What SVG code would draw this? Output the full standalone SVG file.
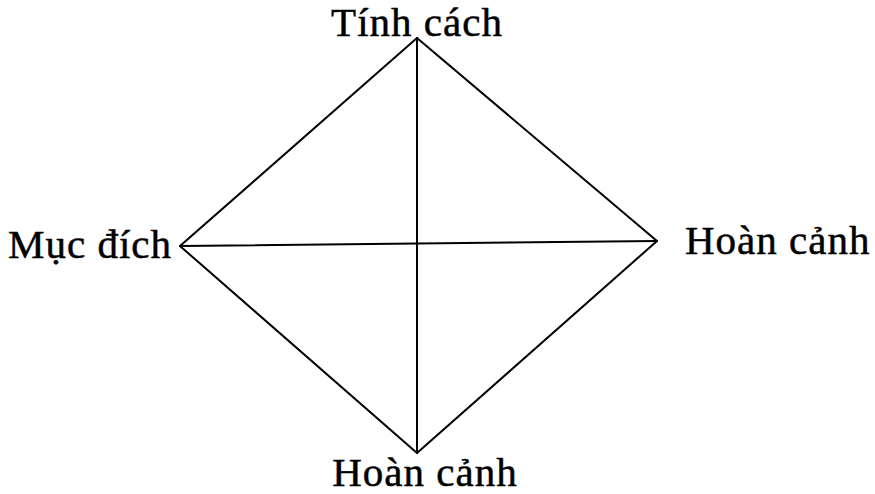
<svg xmlns="http://www.w3.org/2000/svg" width="875" height="494" viewBox="0 0 875 494">
<style>
.e{stroke:#000;stroke-width:2;fill:none;stroke-linecap:round}
.t{font-family:"Liberation Serif","Times New Roman",serif;font-size:41px;letter-spacing:1px;fill:#000;stroke:#000;stroke-width:0.5}
</style>
<rect width="875" height="494" fill="#fff"/>
<g id="connectors">
<line class="e" x1="417" y1="38" x2="180" y2="246"/>
<line class="e" x1="417" y1="38" x2="657" y2="241"/>
<line class="e" x1="180" y1="246" x2="417" y2="453"/>
<line class="e" x1="657" y1="241" x2="417" y2="453"/>
<line class="e" x1="417" y1="38" x2="417" y2="453"/>
<line class="e" x1="180" y1="246" x2="657" y2="241"/>
</g>
<g id="top"><text class="t" x="417" y="36" text-anchor="middle">Tính cách</text></g>
<g id="left"><text class="t" x="172" y="258" text-anchor="end">Mục đích</text></g>
<g id="right"><text class="t" x="685" y="254">Hoàn cảnh</text></g>
<g id="bottom"><text class="t" x="425" y="486" text-anchor="middle">Hoàn cảnh</text></g>
</svg>
